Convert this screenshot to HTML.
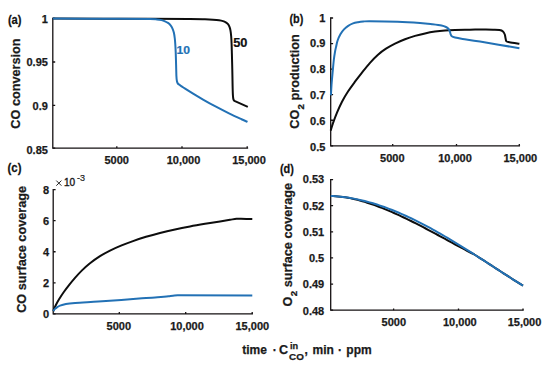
<!DOCTYPE html>
<html><head><meta charset="utf-8"><style>
html,body{margin:0;padding:0;background:#fff;}
body{width:550px;height:368px;overflow:hidden;}
svg{display:block;font-family:"Liberation Sans",sans-serif;}
</style></head><body>
<svg width="550" height="368" viewBox="0 0 550 368">
<rect width="550" height="368" fill="#fff"/>
<path d="M52.8 18.4 V148.1 H247.5" fill="none" stroke="#151112" stroke-width="1.3" stroke-linecap="square"/>
<path d="M116.80 148.1 V146.30 M182.00 148.1 V146.30 M247.20 148.1 V146.30 M52.8 18.40 H55.20 M52.8 62.00 H55.20 M52.8 105.40 H55.20 M52.8 148.20 H55.20 " fill="none" stroke="#151112" stroke-width="1.3"/>
<text transform="translate(47.90,22.70) scale(1.0,1)" text-anchor="end" font-size="11" font-weight="bold" fill="#1a1a1a" stroke="#1a1a1a" stroke-width="0.25">1</text>
<text transform="translate(47.90,65.80) scale(1.0,1)" text-anchor="end" font-size="11" font-weight="bold" fill="#1a1a1a" stroke="#1a1a1a" stroke-width="0.25">0.95</text>
<text transform="translate(47.90,110.20) scale(1.0,1)" text-anchor="end" font-size="11" font-weight="bold" fill="#1a1a1a" stroke="#1a1a1a" stroke-width="0.25">0.9</text>
<text transform="translate(47.90,153.50) scale(1.0,1)" text-anchor="end" font-size="11" font-weight="bold" fill="#1a1a1a" stroke="#1a1a1a" stroke-width="0.25">0.85</text>
<text transform="translate(116.70,164.40) scale(1.0,1)" text-anchor="middle" font-size="11" font-weight="bold" fill="#1a1a1a" stroke="#1a1a1a" stroke-width="0.25">5000</text>
<text transform="translate(183.50,164.40) scale(1.0,1)" text-anchor="middle" font-size="11" font-weight="bold" fill="#1a1a1a" stroke="#1a1a1a" stroke-width="0.25">10,000</text>
<text transform="translate(249.00,164.40) scale(1.0,1)" text-anchor="middle" font-size="11" font-weight="bold" fill="#1a1a1a" stroke="#1a1a1a" stroke-width="0.25">15,000</text>
<path d="M330.7 18.0 V145.8 H519.4" fill="none" stroke="#151112" stroke-width="1.3" stroke-linecap="square"/>
<path d="M392.70 145.8 V144.00 M456.50 145.8 V144.00 M519.30 145.8 V144.00 M330.7 18.00 H333.10 M330.7 43.56 H333.10 M330.7 69.12 H333.10 M330.7 94.68 H333.10 M330.7 120.24 H333.10 M330.7 145.80 H333.10 " fill="none" stroke="#151112" stroke-width="1.3"/>
<text transform="translate(325.40,21.50) scale(1.0,1)" text-anchor="end" font-size="11" font-weight="bold" fill="#1a1a1a" stroke="#1a1a1a" stroke-width="0.25">1</text>
<text transform="translate(325.40,47.40) scale(1.0,1)" text-anchor="end" font-size="11" font-weight="bold" fill="#1a1a1a" stroke="#1a1a1a" stroke-width="0.25">0.9</text>
<text transform="translate(325.40,73.20) scale(1.0,1)" text-anchor="end" font-size="11" font-weight="bold" fill="#1a1a1a" stroke="#1a1a1a" stroke-width="0.25">0.8</text>
<text transform="translate(325.40,99.00) scale(1.0,1)" text-anchor="end" font-size="11" font-weight="bold" fill="#1a1a1a" stroke="#1a1a1a" stroke-width="0.25">0.7</text>
<text transform="translate(325.40,124.80) scale(1.0,1)" text-anchor="end" font-size="11" font-weight="bold" fill="#1a1a1a" stroke="#1a1a1a" stroke-width="0.25">0.6</text>
<text transform="translate(325.40,150.60) scale(1.0,1)" text-anchor="end" font-size="11" font-weight="bold" fill="#1a1a1a" stroke="#1a1a1a" stroke-width="0.25">0.5</text>
<text transform="translate(392.30,161.70) scale(1.0,1)" text-anchor="middle" font-size="11" font-weight="bold" fill="#1a1a1a" stroke="#1a1a1a" stroke-width="0.25">5000</text>
<text transform="translate(455.00,161.70) scale(1.0,1)" text-anchor="middle" font-size="11" font-weight="bold" fill="#1a1a1a" stroke="#1a1a1a" stroke-width="0.25">10,000</text>
<text transform="translate(520.30,161.70) scale(1.0,1)" text-anchor="middle" font-size="11" font-weight="bold" fill="#1a1a1a" stroke="#1a1a1a" stroke-width="0.25">15,000</text>
<path d="M53.2 189.6 V313.9 H252.3" fill="none" stroke="#151112" stroke-width="1.3" stroke-linecap="square"/>
<path d="M119.30 313.9 V312.10 M185.70 313.9 V312.10 M252.20 313.9 V312.10 M53.2 189.60 H55.60 M53.2 220.67 H55.60 M53.2 251.75 H55.60 M53.2 282.82 H55.60 M53.2 313.90 H55.60 " fill="none" stroke="#151112" stroke-width="1.3"/>
<text transform="translate(49.00,193.70) scale(1.0,1)" text-anchor="end" font-size="11" font-weight="bold" fill="#1a1a1a" stroke="#1a1a1a" stroke-width="0.25">8</text>
<text transform="translate(49.00,224.75) scale(1.0,1)" text-anchor="end" font-size="11" font-weight="bold" fill="#1a1a1a" stroke="#1a1a1a" stroke-width="0.25">6</text>
<text transform="translate(49.00,255.80) scale(1.0,1)" text-anchor="end" font-size="11" font-weight="bold" fill="#1a1a1a" stroke="#1a1a1a" stroke-width="0.25">4</text>
<text transform="translate(49.00,286.85) scale(1.0,1)" text-anchor="end" font-size="11" font-weight="bold" fill="#1a1a1a" stroke="#1a1a1a" stroke-width="0.25">2</text>
<text transform="translate(49.00,317.90) scale(1.0,1)" text-anchor="end" font-size="11" font-weight="bold" fill="#1a1a1a" stroke="#1a1a1a" stroke-width="0.25">0</text>
<text transform="translate(118.80,329.60) scale(1.0,1)" text-anchor="middle" font-size="11" font-weight="bold" fill="#1a1a1a" stroke="#1a1a1a" stroke-width="0.25">5000</text>
<text transform="translate(187.00,329.60) scale(1.0,1)" text-anchor="middle" font-size="11" font-weight="bold" fill="#1a1a1a" stroke="#1a1a1a" stroke-width="0.25">10,000</text>
<text transform="translate(252.30,329.60) scale(1.0,1)" text-anchor="middle" font-size="11" font-weight="bold" fill="#1a1a1a" stroke="#1a1a1a" stroke-width="0.25">15,000</text>
<path d="M330.7 179.6 V310.2 H523.0" fill="none" stroke="#151112" stroke-width="1.3" stroke-linecap="square"/>
<path d="M393.60 310.2 V308.40 M458.50 310.2 V308.40 M523.00 310.2 V308.40 M330.7 179.60 H333.10 M330.7 205.72 H333.10 M330.7 231.84 H333.10 M330.7 257.96 H333.10 M330.7 284.08 H333.10 M330.7 310.20 H333.10 " fill="none" stroke="#151112" stroke-width="1.3"/>
<text transform="translate(324.20,183.40) scale(1.0,1)" text-anchor="end" font-size="11" font-weight="bold" fill="#1a1a1a" stroke="#1a1a1a" stroke-width="0.25">0.53</text>
<text transform="translate(324.20,209.62) scale(1.0,1)" text-anchor="end" font-size="11" font-weight="bold" fill="#1a1a1a" stroke="#1a1a1a" stroke-width="0.25">0.52</text>
<text transform="translate(324.20,235.84) scale(1.0,1)" text-anchor="end" font-size="11" font-weight="bold" fill="#1a1a1a" stroke="#1a1a1a" stroke-width="0.25">0.51</text>
<text transform="translate(324.20,262.06) scale(1.0,1)" text-anchor="end" font-size="11" font-weight="bold" fill="#1a1a1a" stroke="#1a1a1a" stroke-width="0.25">0.5</text>
<text transform="translate(324.20,288.28) scale(1.0,1)" text-anchor="end" font-size="11" font-weight="bold" fill="#1a1a1a" stroke="#1a1a1a" stroke-width="0.25">0.49</text>
<text transform="translate(324.20,314.50) scale(1.0,1)" text-anchor="end" font-size="11" font-weight="bold" fill="#1a1a1a" stroke="#1a1a1a" stroke-width="0.25">0.48</text>
<text transform="translate(393.80,325.90) scale(1.0,1)" text-anchor="middle" font-size="11" font-weight="bold" fill="#1a1a1a" stroke="#1a1a1a" stroke-width="0.25">5000</text>
<text transform="translate(459.80,325.90) scale(1.0,1)" text-anchor="middle" font-size="11" font-weight="bold" fill="#1a1a1a" stroke="#1a1a1a" stroke-width="0.25">10,000</text>
<text transform="translate(524.50,325.90) scale(1.0,1)" text-anchor="middle" font-size="11" font-weight="bold" fill="#1a1a1a" stroke="#1a1a1a" stroke-width="0.25">15,000</text>
<path d="M52.80 18.60 C69.00 18.62 127.13 18.63 150.00 18.70 C172.87 18.77 180.83 18.89 190.00 19.00 C199.17 19.11 201.17 19.23 205.00 19.35 C208.83 19.48 210.67 19.59 213.00 19.75 C215.33 19.91 217.33 20.07 219.00 20.30 C220.67 20.53 221.87 20.77 223.00 21.10 C224.13 21.43 224.97 21.80 225.80 22.30 C226.63 22.80 227.38 23.33 228.00 24.10 C228.62 24.87 229.08 25.82 229.50 26.90 C229.92 27.98 230.22 29.00 230.50 30.60 C230.78 32.20 231.02 34.27 231.20 36.50 C231.38 38.73 231.48 41.08 231.60 44.00 C231.72 46.92 231.78 49.67 231.90 54.00 C232.02 58.33 232.18 64.67 232.30 70.00 C232.42 75.33 232.50 81.83 232.60 86.00 C232.70 90.17 232.77 92.80 232.90 95.00 C233.03 97.20 233.15 98.22 233.40 99.20 C233.65 100.18 234.23 100.62 234.40 100.90 L247.8 106.8" fill="none" stroke="#0d0d0d" stroke-width="2.0" stroke-linejoin="round" stroke-linecap="butt"/>
<path d="M52.80 18.60 C64.00 18.62 103.80 18.63 120.00 18.70 C136.20 18.77 143.83 18.88 150.00 19.00 C156.17 19.12 155.08 19.22 157.00 19.40 C158.92 19.58 160.17 19.78 161.50 20.10 C162.83 20.42 163.92 20.83 165.00 21.30 C166.08 21.77 167.07 22.23 168.00 22.90 C168.93 23.57 169.85 24.35 170.60 25.30 C171.35 26.25 171.95 27.35 172.50 28.60 C173.05 29.85 173.52 31.15 173.90 32.80 C174.28 34.45 174.57 36.55 174.80 38.50 C175.03 40.45 175.15 42.25 175.30 44.50 C175.45 46.75 175.57 48.58 175.70 52.00 C175.83 55.42 175.98 61.00 176.10 65.00 C176.22 69.00 176.27 73.33 176.40 76.00 C176.53 78.67 176.65 79.73 176.90 81.00 C177.15 82.27 177.47 82.98 177.90 83.60 C178.33 84.22 179.23 84.52 179.50 84.70 C180.50 85.60 183.17 87.36 185.50 88.84 C187.83 90.32 190.50 92.00 193.50 93.82 C196.50 95.64 199.83 97.66 203.50 99.76 C207.17 101.86 211.17 104.13 215.50 106.44 C219.83 108.75 225.17 111.48 229.50 113.62 C233.83 115.76 238.50 117.88 241.50 119.26 C244.50 120.64 246.50 121.46 247.50 121.90" fill="none" stroke="#2271b5" stroke-width="2.0" stroke-linejoin="round" stroke-linecap="butt"/>
<text transform="translate(176.60,54.00) scale(1.05,1)" text-anchor="start" font-size="11.6" font-weight="bold" fill="#2271b5" stroke="#2271b5" stroke-width="0.2">10</text>
<text transform="translate(233.20,46.90) scale(1.05,1)" text-anchor="start" font-size="12.2" font-weight="bold" fill="#111" stroke="#111" stroke-width="0.2">50</text>
<path d="M330.70 130.60 C331.08 129.37 331.95 126.20 333.00 123.20 C334.05 120.20 335.50 116.18 337.00 112.60 C338.50 109.02 340.17 105.22 342.00 101.70 C343.83 98.18 345.83 94.83 348.00 91.50 C350.17 88.17 352.67 84.85 355.00 81.70 C357.33 78.55 359.50 75.75 362.00 72.60 C364.50 69.45 367.33 65.78 370.00 62.80 C372.67 59.82 375.33 57.05 378.00 54.70 C380.67 52.35 383.17 50.55 386.00 48.70 C388.83 46.85 391.83 45.18 395.00 43.60 C398.17 42.02 401.67 40.48 405.00 39.20 C408.33 37.92 411.67 36.87 415.00 35.90 C418.33 34.93 421.67 34.12 425.00 33.40 C428.33 32.68 431.67 32.08 435.00 31.60 C438.33 31.12 441.67 30.77 445.00 30.50 C448.33 30.23 451.67 30.08 455.00 29.95 C458.33 29.82 461.67 29.76 465.00 29.70 C468.33 29.64 471.67 29.62 475.00 29.60 C478.33 29.58 482.00 29.58 485.00 29.60 C488.00 29.62 490.58 29.63 493.00 29.70 C495.42 29.77 497.83 29.72 499.50 30.00 C501.17 30.28 502.12 30.65 503.00 31.40 C503.88 32.15 504.37 33.30 504.80 34.50 C505.23 35.70 505.32 37.45 505.60 38.60 C505.88 39.75 505.85 40.78 506.50 41.40 C507.15 42.02 507.35 41.90 509.50 42.30 C511.65 42.70 517.75 43.55 519.40 43.80" fill="none" stroke="#0d0d0d" stroke-width="2.0" stroke-linejoin="round" stroke-linecap="butt"/>
<path d="M330.90 95.30 C331.03 93.17 331.40 86.47 331.70 82.50 C332.00 78.53 332.35 75.25 332.70 71.50 C333.05 67.75 333.42 63.27 333.80 60.00 C334.18 56.73 334.60 54.20 335.00 51.90 C335.40 49.60 335.77 48.10 336.20 46.20 C336.63 44.30 336.90 42.50 337.60 40.50 C338.30 38.50 339.33 36.05 340.40 34.20 C341.47 32.35 342.70 30.80 344.00 29.40 C345.30 28.00 346.70 26.80 348.20 25.80 C349.70 24.80 351.37 24.00 353.00 23.40 C354.63 22.80 356.28 22.52 358.00 22.20 C359.72 21.88 361.30 21.67 363.30 21.50 C365.30 21.33 364.28 21.17 370.00 21.20 C375.72 21.23 389.27 21.40 397.60 21.70 C405.93 22.00 414.27 22.58 420.00 23.00 C425.73 23.42 428.42 23.78 432.00 24.20 C435.58 24.62 439.17 25.03 441.50 25.50 C443.83 25.97 444.82 26.42 446.00 27.00 C447.18 27.58 447.95 28.23 448.60 29.00 C449.25 29.77 449.57 30.73 449.90 31.60 C450.23 32.47 450.28 33.42 450.60 34.20 C450.92 34.98 451.07 35.75 451.80 36.30 C452.53 36.85 453.20 37.07 455.00 37.50 C456.80 37.93 458.43 38.22 462.60 38.90 C466.77 39.58 470.53 40.05 480.00 41.60 C489.47 43.15 512.83 47.10 519.40 48.20" fill="none" stroke="#2271b5" stroke-width="2.0" stroke-linejoin="round" stroke-linecap="butt"/>
<path d="M53.30 311.00 C53.67 310.13 54.57 307.70 55.50 305.80 C56.43 303.90 57.48 301.93 58.90 299.60 C60.32 297.27 62.32 294.20 64.00 291.80 C65.68 289.40 67.17 287.52 69.00 285.20 C70.83 282.88 72.83 280.37 75.00 277.90 C77.17 275.43 79.50 272.83 82.00 270.40 C84.50 267.97 87.00 265.67 90.00 263.30 C93.00 260.93 96.67 258.32 100.00 256.20 C103.33 254.08 106.50 252.36 110.00 250.60 C113.50 248.84 117.17 247.24 121.00 245.65 C124.83 244.06 128.83 242.54 133.00 241.07 C137.17 239.60 141.50 238.17 146.00 236.81 C150.50 235.45 155.17 234.16 160.00 232.93 C164.83 231.70 170.00 230.51 175.00 229.43 C180.00 228.35 185.00 227.38 190.00 226.45 C195.00 225.52 200.00 224.67 205.00 223.83 C210.00 222.99 215.83 222.06 220.00 221.39 C224.17 220.72 227.25 220.22 230.00 219.79 C232.75 219.36 234.67 218.97 236.50 218.80 C238.33 218.64 238.37 218.77 241.00 218.80 C243.63 218.83 250.42 218.97 252.30 219.00" fill="none" stroke="#0d0d0d" stroke-width="2.0" stroke-linejoin="round" stroke-linecap="butt"/>
<path d="M53.30 311.00 C53.58 310.65 54.38 309.52 55.00 308.90 C55.62 308.28 56.17 307.85 57.00 307.30 C57.83 306.75 58.52 306.17 60.00 305.60 C61.48 305.03 63.38 304.35 65.90 303.90 C68.42 303.45 69.72 303.30 75.10 302.90 C80.48 302.50 90.50 302.00 98.20 301.50 C105.90 301.00 114.00 300.43 121.30 299.90 C128.60 299.37 135.40 298.77 142.00 298.30 C148.60 297.83 156.48 297.45 160.90 297.10 C165.32 296.75 166.23 296.47 168.50 296.20 C170.77 295.93 172.83 295.64 174.50 295.50 C176.17 295.36 177.83 295.38 178.50 295.35 L252.3 295.5" fill="none" stroke="#2271b5" stroke-width="2.0" stroke-linejoin="round" stroke-linecap="butt"/>
<path d="M330.70 195.93 L333.13 196.05 L335.57 196.21 L338.00 196.41 L340.44 196.65 L342.87 196.92 L345.31 197.24 L347.74 197.65 L350.17 198.13 L352.61 198.65 L355.04 199.22 L357.48 199.84 L359.91 200.49 L362.34 201.18 L364.78 201.91 L367.21 202.68 L369.65 203.47 L372.08 204.30 L374.52 205.16 L376.95 206.05 L379.38 206.97 L381.82 207.91 L384.25 208.88 L386.69 209.88 L389.12 210.90 L391.55 211.94 L393.99 213.01 L396.42 214.10 L398.86 215.20 L401.29 216.33 L403.73 217.48 L406.16 218.64 L408.59 219.82 L411.03 221.02 L413.46 222.23 L415.90 223.46 L418.33 224.70 L420.76 225.95 L423.20 227.22 L425.63 228.50 L428.07 229.78 L430.50 231.08 L432.94 232.38 L435.37 233.69 L437.80 235.00 L440.24 236.32 L442.67 237.64 L445.11 238.97 L447.54 240.29 L449.97 241.62 L452.41 242.94 L454.84 244.26 L457.28 245.57 L459.71 246.88 L462.15 248.18 L464.58 249.48 L467.01 250.75 L469.45 252.01 L471.88 253.25 L474.32 254.47 L476.75 256.02 L479.18 257.58 L481.62 259.14 L484.05 260.71 L486.49 262.27 L488.92 263.85 L491.36 265.42 L493.79 267.00 L496.22 268.57 L498.66 270.15 L501.09 271.72 L503.53 273.29 L505.96 274.86 L508.39 276.43 L510.83 277.99 L513.26 279.55 L515.70 281.10 L518.13 282.65 L520.57 284.19 L523.00 285.72" fill="none" stroke="#0d0d0d" stroke-width="2.0" stroke-linejoin="round" stroke-linecap="butt"/>
<path d="M330.70 195.93 L333.13 196.05 L335.57 196.21 L338.00 196.41 L340.44 196.65 L342.87 196.92 L345.31 197.24 L347.74 197.59 L350.17 197.98 L352.61 198.41 L355.04 198.87 L357.48 199.37 L359.91 199.90 L362.34 200.47 L364.78 201.07 L367.21 201.70 L369.65 202.37 L372.08 203.07 L374.52 203.80 L376.95 204.57 L379.38 205.36 L381.82 206.18 L384.25 207.04 L386.69 207.92 L389.12 208.83 L391.55 209.77 L393.99 210.74 L396.42 211.73 L398.86 212.76 L401.29 213.80 L403.73 214.88 L406.16 215.97 L408.59 217.10 L411.03 218.24 L413.46 219.41 L415.90 220.61 L418.33 221.82 L420.76 223.06 L423.20 224.32 L425.63 225.60 L428.07 226.90 L430.50 228.22 L432.94 229.56 L435.37 230.91 L437.80 232.29 L440.24 233.67 L442.67 235.08 L445.11 236.50 L447.54 237.93 L449.97 239.38 L452.41 240.84 L454.84 242.32 L457.28 243.80 L459.71 245.30 L462.15 246.81 L464.58 248.32 L467.01 249.85 L469.45 251.38 L471.88 252.92 L474.32 254.47 L476.75 256.02 L479.18 257.58 L481.62 259.14 L484.05 260.71 L486.49 262.27 L488.92 263.85 L491.36 265.42 L493.79 267.00 L496.22 268.57 L498.66 270.15 L501.09 271.72 L503.53 273.29 L505.96 274.86 L508.39 276.43 L510.83 277.99 L513.26 279.55 L515.70 281.10 L518.13 282.65 L520.57 284.19 L523.00 285.72" fill="none" stroke="#2271b5" stroke-width="2.0" stroke-linejoin="round" stroke-linecap="butt"/>
<text transform="translate(7.90,24.40) scale(0.82,1)" text-anchor="start" font-size="13.6" font-weight="bold" fill="#111" stroke="#111" stroke-width="0.25">(a)</text>
<text transform="translate(289.50,23.40) scale(0.8,1)" text-anchor="start" font-size="13.6" font-weight="bold" fill="#111" stroke="#111" stroke-width="0.25">(b)</text>
<text transform="translate(7.50,171.70) scale(0.84,1)" text-anchor="start" font-size="13.6" font-weight="bold" fill="#111" stroke="#111" stroke-width="0.25">(c)</text>
<text transform="translate(279.90,172.50) scale(0.8,1)" text-anchor="start" font-size="13.6" font-weight="bold" fill="#111" stroke="#111" stroke-width="0.25">(d)</text>
<text transform="translate(20.10,83.55) rotate(-90) scale(1,1.0)" text-anchor="middle" font-size="12.7" font-weight="bold" fill="#1a1a1a" stroke="#1a1a1a" stroke-width="0.25">CO conversion</text>
<text transform="translate(299.00,81.50) rotate(-90) scale(1,1.0)" text-anchor="middle" font-size="12.7" font-weight="bold" fill="#1a1a1a" stroke="#1a1a1a" stroke-width="0.25">CO<tspan font-size="9.8" dx="0.3" dy="4.9">2</tspan><tspan dy="-4.9"> production</tspan></text>
<text transform="translate(26.30,249.40) rotate(-90) scale(1,1.0)" text-anchor="middle" font-size="12.7" font-weight="bold" fill="#1a1a1a" stroke="#1a1a1a" stroke-width="0.25">CO surface coverage</text>
<text transform="translate(292.10,244.65) rotate(-90) scale(1,1.0)" text-anchor="middle" font-size="12.7" font-weight="bold" fill="#1a1a1a" stroke="#1a1a1a" stroke-width="0.25">O<tspan font-size="9.8" dx="0.3" dy="4.9">2</tspan><tspan dy="-4.9"> surface coverage</tspan></text>
<path d="M56.3 180.6 L61.4 185.7 M61.4 180.6 L56.3 185.7" stroke="#1a1a1a" stroke-width="0.95" fill="none"/>
<text x="63.9" y="186.1" font-size="10.1" fill="#1a1a1a" stroke="#1a1a1a" stroke-width="0.35">10</text>
<text x="77.0" y="180.9" font-size="9" fill="#1a1a1a" stroke="#1a1a1a" stroke-width="0.2">-3</text>
<text transform="translate(242.20,354.20) scale(1.0,1)" text-anchor="start" font-size="12" font-weight="bold" fill="#1a1a1a" stroke="#1a1a1a" stroke-width="0.25">time</text>
<text transform="translate(274.70,354.20) scale(1.0,1)" text-anchor="middle" font-size="12" font-weight="bold" fill="#1a1a1a" stroke="#1a1a1a" stroke-width="0.25">·</text>
<text transform="translate(278.90,354.20) scale(1.0,1)" text-anchor="start" font-size="12.6" font-weight="bold" fill="#1a1a1a" stroke="#1a1a1a" stroke-width="0.25">C</text>
<text transform="translate(289.90,348.90) scale(1.0,1)" text-anchor="start" font-size="9.2" font-weight="bold" fill="#1a1a1a" stroke="#1a1a1a" stroke-width="0.25">in</text>
<text transform="translate(289.10,359.60) scale(1.0,1)" text-anchor="start" font-size="9.9" font-weight="bold" fill="#1a1a1a" stroke="#1a1a1a" stroke-width="0.25">CO</text>
<text transform="translate(304.60,354.20) scale(1.0,1)" text-anchor="start" font-size="12" font-weight="bold" fill="#1a1a1a" stroke="#1a1a1a" stroke-width="0.25">,</text>
<text transform="translate(312.60,354.20) scale(1.0,1)" text-anchor="start" font-size="12" font-weight="bold" fill="#1a1a1a" stroke="#1a1a1a" stroke-width="0.25">min</text>
<text transform="translate(340.00,354.20) scale(1.0,1)" text-anchor="middle" font-size="12" font-weight="bold" fill="#1a1a1a" stroke="#1a1a1a" stroke-width="0.25">·</text>
<text transform="translate(346.30,354.20) scale(1.0,1)" text-anchor="start" font-size="12" font-weight="bold" fill="#1a1a1a" stroke="#1a1a1a" stroke-width="0.25">ppm</text>
</svg>
</body></html>
